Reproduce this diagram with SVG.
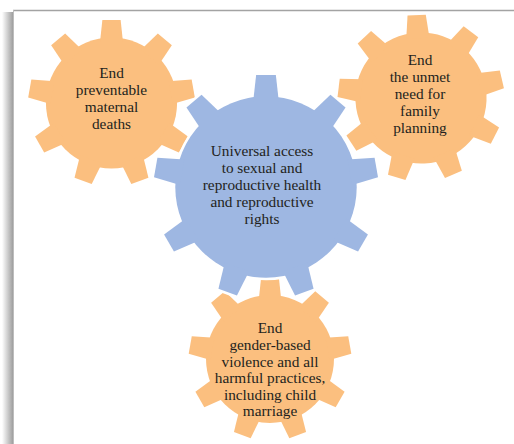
<svg xmlns="http://www.w3.org/2000/svg" xmlns:xlink="http://www.w3.org/1999/xlink" width="514" height="444" viewBox="0 0 514 444">
<defs>
<linearGradient id="shadow" x1="0" y1="0" x2="1" y2="0">
<stop offset="0" stop-color="#ffffff"/>
<stop offset="1" stop-color="#9a9a9a"/>
</linearGradient>
<g id="toothO"><polygon points="-14,-72 14,-72 11,-100 -11,-100"/></g>
<g id="gearO">
<circle r="79"/>
<use href="#toothO"/>
<use href="#toothO" transform="rotate(40)"/>
<use href="#toothO" transform="rotate(80)"/>
<use href="#toothO" transform="rotate(120)"/>
<use href="#toothO" transform="rotate(160)"/>
<use href="#toothO" transform="rotate(200)"/>
<use href="#toothO" transform="rotate(240)"/>
<use href="#toothO" transform="rotate(280)"/>
<use href="#toothO" transform="rotate(320)"/>
</g>
<g id="toothB"><polygon points="-11.5,-76 11.5,-76 8.8,-100 -8.8,-100"/></g>
<g id="gearB">
<circle r="81"/>
<use href="#toothB"/>
<use href="#toothB" transform="rotate(40)"/>
<use href="#toothB" transform="rotate(80)"/>
<use href="#toothB" transform="rotate(120)"/>
<use href="#toothB" transform="rotate(160)"/>
<use href="#toothB" transform="rotate(200)"/>
<use href="#toothB" transform="rotate(240)"/>
<use href="#toothB" transform="rotate(280)"/>
<use href="#toothB" transform="rotate(320)"/>
</g>
</defs>
<style>
.halo { fill: #ffffff; stroke: #ffffff; stroke-linejoin: round; }
.orange { fill: #fbbf7f; }
.blue { fill: #9eb7e2; }
.label { font-family: "Liberation Serif", "Times New Roman", serif; font-size: 15.3px; fill: #231f20; text-anchor: middle; }
</style>
<rect width="514" height="444" fill="#ffffff"/>
<g id="frame">
<rect x="2" y="12" width="11.5" height="432" fill="url(#shadow)"/>
<line x1="13" y1="10.5" x2="514" y2="10.5" stroke="#a3a3a3" stroke-width="1.6"/>
<line x1="13.5" y1="10" x2="13.5" y2="444" stroke="#bdbdbd" stroke-width="1"/>
</g>
<g id="connectors"></g>
<g id="gear-maternal">
<g transform="translate(111.5,103) scale(0.83)">
<use href="#gearO" class="halo" stroke-width="5"/>
<use href="#gearO" class="orange"/>
</g>
<text class="label"><tspan x="111.5" y="78">End</tspan><tspan x="111.5" y="95">preventable</tspan><tspan x="111.5" y="112">maternal</tspan><tspan x="111.5" y="129">deaths</tspan></text>
</g>
<g id="gear-family">
<g transform="translate(421,98) rotate(-3) scale(0.83)">
<use href="#gearO" class="halo" stroke-width="5"/>
<use href="#gearO" class="orange"/>
</g>
<text class="label"><tspan x="420" y="65">End</tspan><tspan x="420" y="82">the unmet</tspan><tspan x="420" y="99">need for</tspan><tspan x="420" y="116">family</tspan><tspan x="420" y="133">planning</tspan></text>
</g>
<g id="gear-violence">
<g transform="translate(270,359) scale(0.81)">
<use href="#gearO" class="halo" stroke-width="5"/>
<use href="#gearO" class="orange"/>
</g>
<text class="label"><tspan x="270" y="333">End</tspan><tspan x="270" y="350">gender-based</tspan><tspan x="270" y="366.5">violence and all</tspan><tspan x="270" y="383">harmful practices,</tspan><tspan x="270" y="399.5">including child</tspan><tspan x="270" y="416">marriage</tspan></text>
</g>
<g id="gear-universal">
<g transform="translate(266,187) scale(1.12)">
<use href="#gearB" class="halo" stroke-width="4.5"/>
<use href="#gearB" class="blue"/>
</g>
<text class="label"><tspan x="262" y="156">Universal access</tspan><tspan x="262" y="173">to sexual and</tspan><tspan x="262" y="190">reproductive health</tspan><tspan x="262" y="207">and reproductive</tspan><tspan x="262" y="223.5">rights</tspan></text>
</g>
</svg>
